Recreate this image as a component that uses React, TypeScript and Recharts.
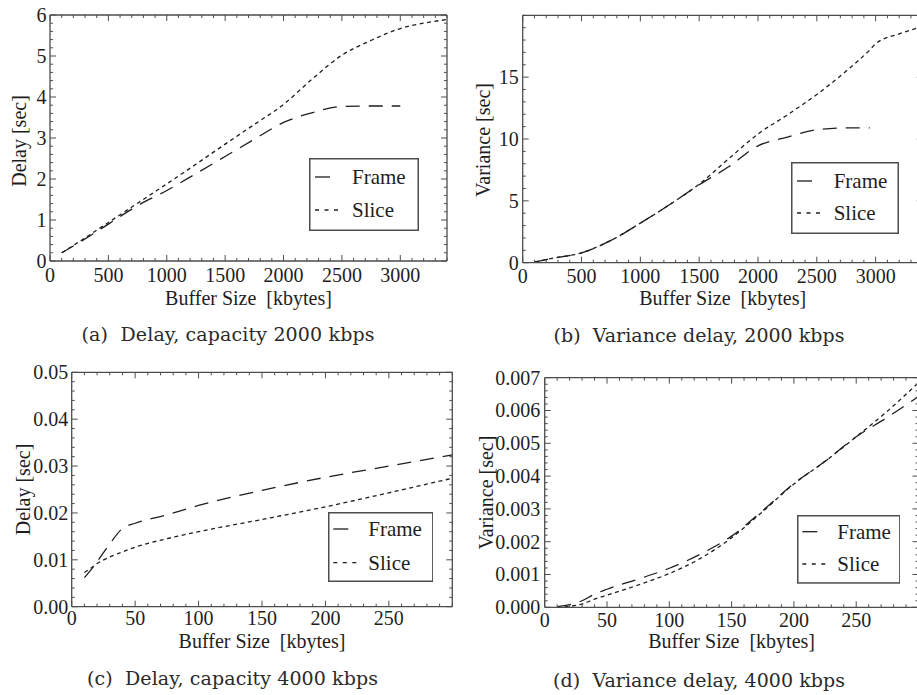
import { Legend, Line, LineChart, XAxis, YAxis } from "recharts";

const SERIF = '"Liberation Serif", "Times New Roman", serif';
const CAPTION_SERIF = '"DejaVu Serif", serif';
const INK = "#1e1e1e";
const FRAME_INK = "#4d4d4d";
const MAJOR_LEN = 6;
const MINOR_LEN = 3;

// (a) delay, capacity 2000 kbps
const aBuffer = [100, 250, 500, 750, 1000, 1250, 1500, 1750, 2000, 2250, 2500, 2750, 3000, 3200, 3400];
const aFrame = [0.2, 0.45, 0.9, 1.35, 1.72, 2.13, 2.55, 2.97, 3.38, 3.62, 3.77, 3.78, 3.78, null, null];
const aSlice = [0.2, 0.47, 0.94, 1.41, 1.88, 2.36, 2.85, 3.33, 3.82, 4.45, 5.02, 5.38, 5.67, 5.8, 5.89];
const aXLabels = ["0", "500", "1000", "1500", "2000", "2500", "3000"];
const aYLabels = ["0", "1", "2", "3", "4", "5", "6"];

// (b) variance delay, 2000 kbps
const bBuffer = [100, 250, 500, 750, 1000, 1250, 1500, 1750, 2000, 2250, 2500, 2750, 2950, 3000, 3200, 3400];
const bFrame = [0.05, 0.35, 0.8, 1.8, 3.2, 4.7, 6.3, 7.75, 9.45, 10.15, 10.75, 10.9, 10.9, null, null, null];
const bSlice = [0.05, 0.35, 0.8, 1.8, 3.2, 4.7, 6.35, 8.4, 10.4, 11.95, 13.6, 15.5, 17.2, 17.7, 18.5, 19.1];
const bXLabels = ["0", "500", "1000", "1500", "2000", "2500", "3000"];
const bYLabels = ["0", "5", "10", "15"];

// (c) delay, capacity 4000 kbps
const cBuffer = [10, 15, 20, 30, 40, 50, 75, 100, 150, 200, 250, 300];
const cFrame = [0.0062, 0.0078, 0.0096, 0.0134, 0.0167, 0.0178, 0.0196, 0.0216, 0.0248, 0.0276, 0.03, 0.0324];
const cSlice = [0.0073, 0.0082, 0.0092, 0.0106, 0.0117, 0.0127, 0.0145, 0.016, 0.0186, 0.0213, 0.0243, 0.0274];
const cXLabels = ["0", "50", "100", "150", "200", "250"];
const cYLabels = ["0.00", "0.01", "0.02", "0.03", "0.04", "0.05"];

// (d) variance delay, 4000 kbps
const dBuffer = [10, 20, 30, 40, 50, 75, 100, 125, 150, 175, 200, 225, 250, 275, 300];
const dFrame = [0.00002, 0.00008, 0.0002, 0.0004, 0.00055, 0.00086, 0.00119, 0.00162, 0.00217, 0.00295, 0.00377, 0.00445, 0.0052, 0.00579, 0.00643];
const dSlice = [0.0, 0.00003, 0.0001, 0.00025, 0.00037, 0.00068, 0.00103, 0.00149, 0.00212, 0.00292, 0.00376, 0.00445, 0.0052, 0.00598, 0.00685];
const dXLabels = ["0", "50", "100", "150", "200", "250"];
const dYLabels = ["0.000", "0.001", "0.002", "0.003", "0.004", "0.005", "0.006", "0.007"];

type Row = { x: number; frame: number | null; slice: number | null };

function toRows(xs: number[], frame: (number | null)[], slice: (number | null)[]): Row[] {
  return xs.map((x, i) => ({ x, frame: frame[i], slice: slice[i] }));
}

function stepTicks(max: number, step: number): number[] {
  const n = Math.round(max / step);
  return Array.from({ length: n + 1 }, (_, i) => Number((i * step).toPrecision(10)));
}

function labelFor(v: number, labels: string[]) {
  return labels.find((l) => Math.abs(Number(l) - v) < 1e-9);
}

function BottomTick(props: any) {
  const { x, y, payload, labels, gap } = props;
  const label = labelFor(payload.value, labels);
  const len = label === undefined ? MINOR_LEN : MAJOR_LEN;
  return (
    <g>
      <line x1={x} x2={x} y1={y} y2={y - len} stroke={FRAME_INK} strokeWidth={1} />
      {label !== undefined && (
        <text x={x} y={y + gap} textAnchor="middle" fontFamily={SERIF} fontSize={20} fill={INK}>
          {label}
        </text>
      )}
    </g>
  );
}

function TopTick(props: any) {
  const { x, y, payload, labels } = props;
  const len = labelFor(payload.value, labels) === undefined ? MINOR_LEN : MAJOR_LEN;
  return <line x1={x} x2={x} y1={y} y2={y + len} stroke={FRAME_INK} strokeWidth={1} />;
}

function LeftTick(props: any) {
  const { x, y, payload, labels, gap } = props;
  const label = labelFor(payload.value, labels);
  const len = label === undefined ? MINOR_LEN : MAJOR_LEN;
  return (
    <g>
      <line x1={x} x2={x + len} y1={y} y2={y} stroke={FRAME_INK} strokeWidth={1} />
      {label !== undefined && (
        <text x={x - gap} y={y + 6.8} textAnchor="end" fontFamily={SERIF} fontSize={20} fill={INK}>
          {label}
        </text>
      )}
    </g>
  );
}

function RightTick(props: any) {
  const { x, y, payload, labels } = props;
  const len = labelFor(payload.value, labels) === undefined ? MINOR_LEN : MAJOR_LEN;
  return <line x1={x} x2={x - len} y1={y} y2={y} stroke={FRAME_INK} strokeWidth={1} />;
}

function XTitle(props: any) {
  const { viewBox, title, dy, caption, captionX, captionY, captionLen } = props;
  const cx = viewBox.x + viewBox.width / 2;
  return (
    <g>
      <text x={cx} y={viewBox.y + dy} textAnchor="middle" fontFamily={SERIF} fontSize={20} fill={INK}>
        {title}
      </text>
      <text
        x={captionX}
        y={captionY}
        textAnchor="middle"
        textLength={captionLen}
        lengthAdjust="spacing"
        fontFamily={CAPTION_SERIF}
        fontSize={19}
        fill="#2a2a2a"
      >
        {caption}
      </text>
    </g>
  );
}

function YTitle(props: any) {
  const { viewBox, title, dx, shift } = props;
  const x = viewBox.x + viewBox.width - dx;
  const cy = viewBox.y + viewBox.height / 2 + shift;
  return (
    <text
      x={x}
      y={cy}
      transform={`rotate(-90, ${x}, ${cy})`}
      textAnchor="middle"
      fontFamily={SERIF}
      fontSize={20}
      fill={INK}
    >
      {title}
    </text>
  );
}

const SAMPLE: Record<string, { len: number; dash?: string }> = {
  Frame: { len: 15 },
  Slice: { len: 23, dash: "4 5.5" },
};

function LegendBox(props: any) {
  const { payload = [], w, h, sampleX, textX, rowY } = props;
  return (
    <svg width={w} height={h} style={{ display: "block" }}>
      <rect x={0.75} y={0.75} width={w - 1.5} height={h - 1.5} fill="#fff" stroke={FRAME_INK} strokeWidth={1.5} />
      {payload.map((entry: any, i: number) => {
        const s = SAMPLE[entry.value] ?? { len: 15 };
        const cy = rowY[i];
        return (
          <g key={entry.value}>
            <line x1={sampleX} x2={sampleX + s.len} y1={cy} y2={cy} stroke={INK} strokeWidth={1.3} strokeDasharray={s.dash} />
            <text x={textX} y={cy + 7} fontFamily={SERIF} fontSize={21} fill={INK}>
              {entry.value}
            </text>
          </g>
        );
      })}
    </svg>
  );
}

type PanelSpec = {
  rows: Row[];
  xMax: number;
  xStep: number;
  xLabels: string[];
  yMax: number;
  yStep: number;
  yLabels: string[];
  yTitle: string;
  caption: string;
  left: number;
  top: number;
  width: number;
  height: number;
  // plot-area edges measured inside the chart box
  plot: { top: number; right: number; bottom: number; left: number };
  xGap: number;
  yGap: number;
  xTitleDy: number;
  yTitleDx: number;
  yTitleShift: number;
  captionX: number;
  captionY: number;
  captionLen: number;
  legend: { left: number; top: number; w: number; h: number; sampleX: number; textX: number; rowY: number[] };
};

const PANELS: PanelSpec[] = [
  {
    rows: toRows(aBuffer, aFrame, aSlice),
    xMax: 3400, xStep: 100, xLabels: aXLabels,
    yMax: 6, yStep: 0.2, yLabels: aYLabels,
    yTitle: "Delay [sec]",
    caption: "(a)\u00a0 Delay, capacity 2000 kbps",
    left: 0, top: 0, width: 460, height: 350,
    plot: { top: 15, right: 13, bottom: 89, left: 50 },
    xGap: 20.7, yGap: 3.5, xTitleDy: 44, yTitleDx: 24, yTitleShift: 3,
    captionX: 228, captionY: 341, captionLen: 293,
    legend: { left: 309, top: 158, w: 110, h: 73, sampleX: 6, textX: 43, rowY: [19, 52] },
  },
  {
    rows: toRows(bBuffer, bFrame, bSlice),
    xMax: 3400, xStep: 100, xLabels: bXLabels,
    yMax: 20, yStep: 1, yLabels: bYLabels,
    yTitle: "Variance [sec]",
    caption: "(b)\u00a0 Variance delay, 2000 kbps",
    left: 457, top: 0, width: 480, height: 350,
    plot: { top: 15.3, right: 14.3, bottom: 87.3, left: 65.7 },
    xGap: 20.6, yGap: 4, xTitleDy: 42.3, yTitleDx: 32.4, yTitleShift: 1,
    captionX: 242, captionY: 341.5, captionLen: 291,
    legend: { left: 334, top: 162, w: 108, h: 72, sampleX: 6, textX: 42.7, rowY: [19, 51] },
  },
  {
    rows: toRows(cBuffer, cFrame, cSlice),
    xMax: 300, xStep: 10, xLabels: cXLabels,
    yMax: 0.05, yStep: 0.002, yLabels: cYLabels,
    yTitle: "Delay [sec]",
    caption: "(c)\u00a0 Delay, capacity 4000 kbps",
    left: 0, top: 340, width: 470, height: 355,
    plot: { top: 32.3, right: 17.7, bottom: 88.3, left: 71.7 },
    xGap: 18.3, yGap: 3.4, xTitleDy: 41.3, yTitleDx: 42, yTitleShift: 0,
    captionX: 232.5, captionY: 345, captionLen: 291,
    legend: { left: 327.7, top: 172, w: 105.6, h: 70, sampleX: 5.3, textX: 40.3, rowY: [17, 50.7] },
  },
  {
    rows: toRows(dBuffer, dFrame, dSlice),
    xMax: 300, xStep: 10, xLabels: dXLabels,
    yMax: 0.007, yStep: 0.0002, yLabels: dYLabels,
    yTitle: "Variance [sec]",
    caption: "(d)\u00a0 Variance delay, 4000 kbps",
    left: 457, top: 340, width: 480, height: 355,
    plot: { top: 37.7, right: 18.5, bottom: 87.7, left: 87.7 },
    xGap: 19.4, yGap: 4.4, xTitleDy: 40.7, yTitleDx: 51.7, yTitleShift: 0,
    captionX: 242, captionY: 346.5, captionLen: 292,
    legend: { left: 339.7, top: 175, w: 103.6, h: 68.7, sampleX: 5.3, textX: 40.3, rowY: [16.7, 49] },
  },
];

const axisLine = { stroke: FRAME_INK, strokeWidth: 1.3 };
// every axis is 1px thick (recharts skips 0-size axes), so margins give back that pixel
const AXIS = 1;

function Panel({ spec }: { spec: PanelSpec }) {
  const xTicks = stepTicks(spec.xMax, spec.xStep);
  const yTicks = stepTicks(spec.yMax, spec.yStep);
  const lg = spec.legend;
  const margin = {
    top: spec.plot.top - AXIS,
    right: spec.plot.right - AXIS,
    bottom: spec.plot.bottom - AXIS,
    left: spec.plot.left - AXIS,
  };
  return (
    <div style={{ position: "absolute", left: spec.left, top: spec.top }}>
      <LineChart width={spec.width} height={spec.height} data={spec.rows} margin={margin}>
        <XAxis
          xAxisId="bottom"
          dataKey="x"
          type="number"
          domain={[0, spec.xMax]}
          allowDataOverflow
          ticks={xTicks}
          interval={0}
          height={AXIS}
          tickSize={0}
          tickMargin={0}
          tickLine={false}
          axisLine={axisLine}
          tick={<BottomTick labels={spec.xLabels} gap={spec.xGap} />}
          label={
            <XTitle
              title={"Buffer Size\u00a0 [kbytes]"}
              dy={spec.xTitleDy}
              caption={spec.caption}
              captionX={spec.captionX}
              captionY={spec.captionY}
              captionLen={spec.captionLen}
            />
          }
        />
        <XAxis
          xAxisId="top"
          orientation="top"
          dataKey="x"
          type="number"
          domain={[0, spec.xMax]}
          allowDataOverflow
          ticks={xTicks}
          interval={0}
          height={AXIS}
          tickSize={0}
          tickMargin={0}
          tickLine={false}
          axisLine={axisLine}
          tick={<TopTick labels={spec.xLabels} />}
        />
        <YAxis
          yAxisId="left"
          type="number"
          domain={[0, spec.yMax]}
          allowDataOverflow
          ticks={yTicks}
          interval={0}
          width={AXIS}
          tickSize={0}
          tickMargin={0}
          tickLine={false}
          axisLine={axisLine}
          tick={<LeftTick labels={spec.yLabels} gap={spec.yGap} />}
          label={<YTitle title={spec.yTitle} dx={spec.yTitleDx} shift={spec.yTitleShift} />}
        />
        <YAxis
          yAxisId="right"
          orientation="right"
          type="number"
          domain={[0, spec.yMax]}
          allowDataOverflow
          ticks={yTicks}
          interval={0}
          width={AXIS}
          tickSize={0}
          tickMargin={0}
          tickLine={false}
          axisLine={axisLine}
          tick={<RightTick labels={spec.yLabels} />}
        />
        <Legend
          layout="horizontal"
          verticalAlign="middle"
          align="center"
          wrapperStyle={{ left: lg.left, top: lg.top, width: lg.w, height: lg.h }}
          content={<LegendBox w={lg.w} h={lg.h} sampleX={lg.sampleX} textX={lg.textX} rowY={lg.rowY} />}
        />
        <Line
          xAxisId="bottom"
          yAxisId="left"
          type="monotone"
          dataKey="frame"
          name="Frame"
          stroke={INK}
          strokeWidth={1.3}
          strokeDasharray="14 9"
          dot={false}
          activeDot={false}
          isAnimationActive={false}
        />
        <Line
          xAxisId="bottom"
          yAxisId="left"
          type="monotone"
          dataKey="slice"
          name="Slice"
          stroke={INK}
          strokeWidth={1.3}
          strokeDasharray="4 3.5"
          dot={false}
          activeDot={false}
          isAnimationActive={false}
        />
      </LineChart>
    </div>
  );
}

export default function App() {
  return (
    <div
      style={{
        position: "absolute",
        left: 0,
        top: 0,
        width: 917,
        height: 695,
        overflow: "hidden",
        background: "#fff",
      }}
    >
      {PANELS.map((spec) => (
        <Panel key={spec.caption} spec={spec} />
      ))}
    </div>
  );
}
